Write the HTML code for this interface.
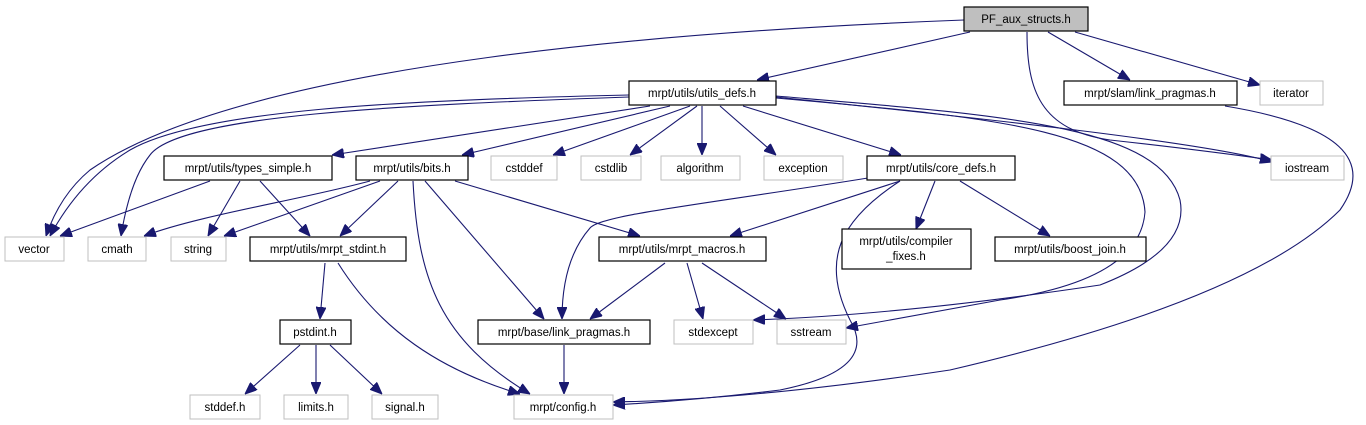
<!DOCTYPE html>
<html><head><meta charset="utf-8"><style>
body{margin:0;background:#fff;}
svg{display:block}
text{font-family:"Liberation Sans",sans-serif;font-size:11.5px;fill:#000;text-anchor:middle}
.e{fill:none;stroke:#191970;stroke-width:1.1}
.n{fill:#fff;stroke:#000;stroke-width:1.2}
.g{fill:#fff;stroke:#bfbfbf;stroke-width:1}
</style></head><body>
<svg width="1366" height="425" viewBox="0 0 1366 425" xmlns="http://www.w3.org/2000/svg">
<defs><marker id="a" viewBox="0 0 12 10" refX="12" refY="5" markerWidth="12" markerHeight="10" markerUnits="userSpaceOnUse" orient="auto"><path d="M0,0 L12,5 L0,10 z" fill="#191970" stroke="#191970"/></marker></defs>
<g class="e" marker-end="url(#a)">
<path d="M964,20 C700,30 250,60 90,170 Q60,195 46,236"/>
<path d="M970,32 L757,80"/>
<path d="M1048,32 L1130,80"/>
<path d="M1075,32 L1260,85"/>
<path d="M1027,32 C1027,90 1040,130 1110,140 Q1200,150 1272,160"/>
<path d="M776,97 C900,110 1200,140 1272,162"/>
<path d="M629,95 C400,100 200,110 130,150 Q80,180 50,236"/>
<path d="M629,97 C400,105 180,115 150,155 Q130,180 121,236"/>
<path d="M650,106 L332,155"/>
<path d="M670,106 L462,155"/>
<path d="M690,106 L553,155"/>
<path d="M697,106 L630,155"/>
<path d="M702,106 L702,155"/>
<path d="M720,106 L776,155"/>
<path d="M743,106 L901,155"/>
<path d="M776,96 C1000,115 1160,125 1180,200 Q1190,250 1100,285 Q900,315 753,320"/>
<path d="M776,98 C1000,118 1140,130 1145,212 Q1140,280 1000,300 Q900,318 846,328"/>
<path d="M1225,106 C1340,125 1375,160 1340,210 Q1250,300 950,370 Q750,400 613,402"/>
<path d="M900,181 C840,220 820,260 850,320 Q880,370 780,390 Q700,400 613,405"/>
<path d="M868,178 C700,205 600,215 590,228 Q562,260 562,319"/>
<path d="M900,181 L730,236"/>
<path d="M935,181 L916,229"/>
<path d="M960,181 L1050,236"/>
<path d="M210,181 L60,236"/>
<path d="M240,181 L208,236"/>
<path d="M260,181 L310,236"/>
<path d="M370,181 C300,200 200,215 144,236"/>
<path d="M380,181 L224,236"/>
<path d="M398,181 L340,236"/>
<path d="M413,181 C418,280 440,340 530,394"/>
<path d="M425,181 L544,319"/>
<path d="M455,181 L640,236"/>
<path d="M325,263 L320,319"/>
<path d="M338,263 C380,330 440,370 520,394"/>
<path d="M665,263 L590,319"/>
<path d="M687,263 L703,319"/>
<path d="M702,263 L786,319"/>
<path d="M300,345 L245,394"/>
<path d="M316,345 L316,394"/>
<path d="M330,345 L382,394"/>
<path d="M564,345 L564,394"/>
</g>
<rect x="964" y="7" width="124" height="24" fill="#bfbfbf" stroke="#000" stroke-width="1.2"/><text x="1026" y="23">PF_aux_structs.h</text>
<rect class="n" x="629" y="81" width="147" height="24"/><text x="702" y="97">mrpt/utils/utils_defs.h</text>
<rect class="n" x="1064" y="81" width="173" height="24"/><text x="1150" y="97">mrpt/slam/link_pragmas.h</text>
<rect class="g" x="1260" y="81" width="63" height="24"/><text x="1291" y="97">iterator</text>
<rect class="n" x="164" y="156" width="168" height="24"/><text x="248" y="172">mrpt/utils/types_simple.h</text>
<rect class="n" x="356" y="156" width="112" height="24"/><text x="412" y="172">mrpt/utils/bits.h</text>
<rect class="g" x="491" y="156" width="66" height="24"/><text x="524" y="172">cstddef</text>
<rect class="g" x="581" y="156" width="60" height="24"/><text x="611" y="172">cstdlib</text>
<rect class="g" x="661" y="156" width="79" height="24"/><text x="700" y="172">algorithm</text>
<rect class="g" x="764" y="156" width="79" height="24"/><text x="803" y="172">exception</text>
<rect class="n" x="867" y="156" width="148" height="24"/><text x="941" y="172">mrpt/utils/core_defs.h</text>
<rect class="g" x="1271" y="156" width="73" height="24"/><text x="1307" y="172">iostream</text>
<rect class="g" x="5" y="237" width="59" height="24"/><text x="34" y="253">vector</text>
<rect class="g" x="88" y="237" width="58" height="24"/><text x="117" y="253">cmath</text>
<rect class="g" x="171" y="237" width="55" height="24"/><text x="198" y="253">string</text>
<rect class="n" x="250" y="237" width="156" height="24"/><text x="328" y="253">mrpt/utils/mrpt_stdint.h</text>
<rect class="n" x="599" y="237" width="167" height="24"/><text x="682" y="253">mrpt/utils/mrpt_macros.h</text>
<rect class="n" x="842" y="229" width="129" height="40"/><text x="906" y="245">mrpt/utils/compiler</text><text x="906" y="260">_fixes.h</text>
<rect class="n" x="995" y="237" width="151" height="24"/><text x="1070" y="253">mrpt/utils/boost_join.h</text>
<rect class="n" x="280" y="320" width="71" height="24"/><text x="315" y="336">pstdint.h</text>
<rect class="n" x="478" y="320" width="172" height="24"/><text x="564" y="336">mrpt/base/link_pragmas.h</text>
<rect class="g" x="674" y="320" width="79" height="24"/><text x="713" y="336">stdexcept</text>
<rect class="g" x="777" y="320" width="69" height="24"/><text x="811" y="336">sstream</text>
<rect class="g" x="190" y="395" width="70" height="24"/><text x="225" y="411">stddef.h</text>
<rect class="g" x="284" y="395" width="64" height="24"/><text x="316" y="411">limits.h</text>
<rect class="g" x="372" y="395" width="66" height="24"/><text x="405" y="411">signal.h</text>
<rect class="g" x="514" y="395" width="99" height="24"/><text x="563" y="411">mrpt/config.h</text>
</svg>
</body></html>
